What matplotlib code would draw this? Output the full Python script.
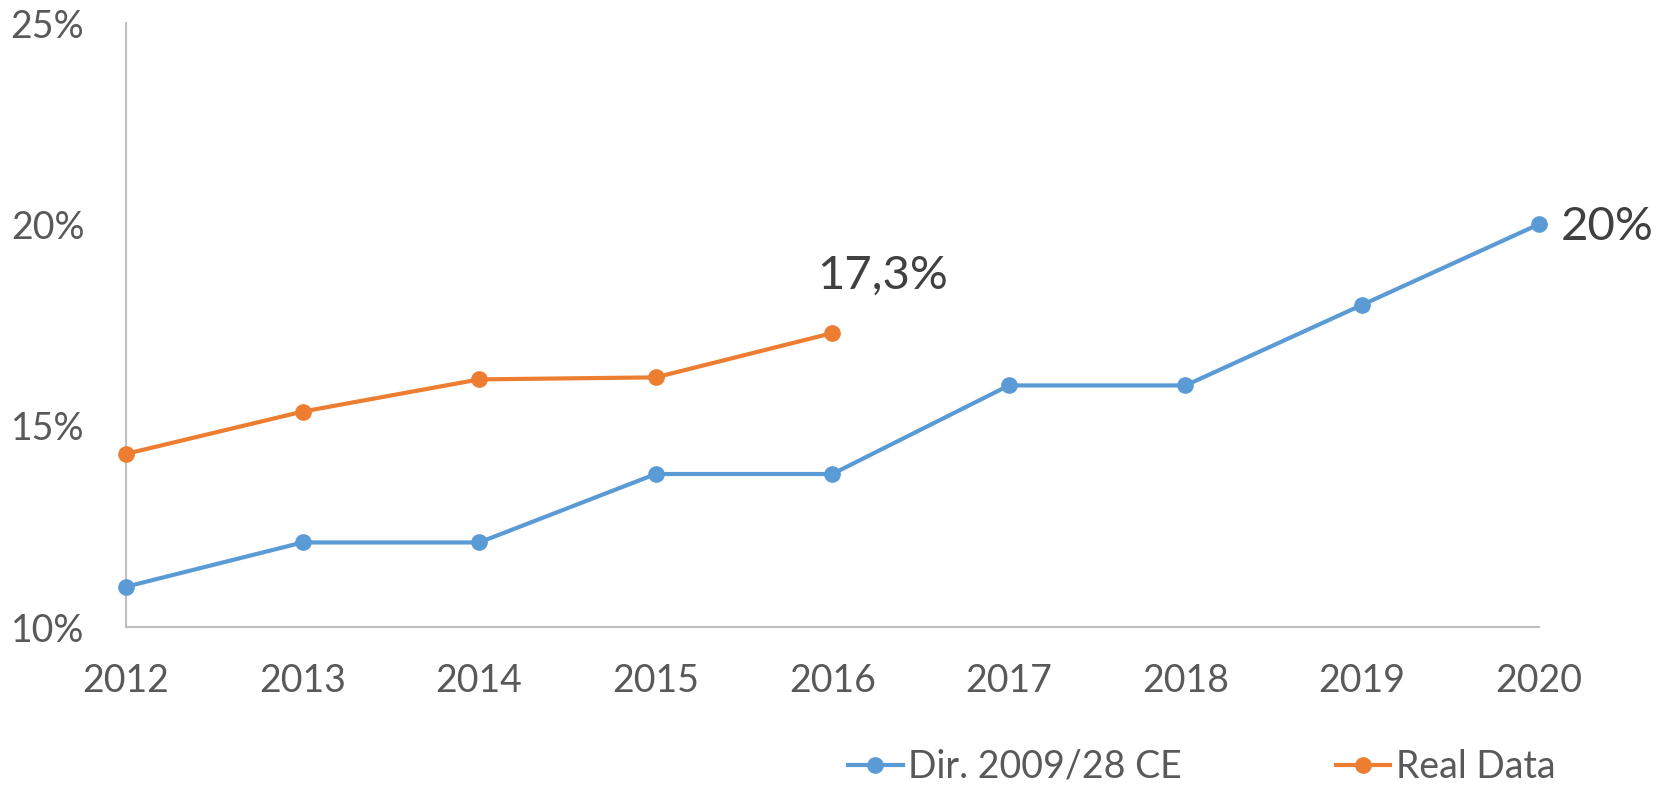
import matplotlib
matplotlib.use("Agg")
import matplotlib.pyplot as plt
from matplotlib.ticker import FuncFormatter

# data
years = [2012, 2013, 2014, 2015, 2016, 2017, 2018, 2019, 2020]
target = [11.0, 12.1, 12.1, 13.8, 13.8, 16.0, 16.0, 18.0, 20.0]
real_years = [2012, 2013, 2014, 2015, 2016]
real = [14.3, 15.35, 16.15, 16.2, 17.3]
y_ticks = [10, 15, 20, 25]

blue = "#5B9BD5"
orange = "#ED7D31"
grey_text = "#595959"

plt.rcParams["font.family"] = ["Lato", "DejaVu Sans"]

fig = plt.figure(figsize=(16.6, 7.89), dpi=100)
ax = fig.add_axes([0.0759, 0.2053, 0.851, 0.7655])

ax.plot(years, target, color=blue, lw=3, marker="o", markersize=11,
        label="Dir. 2009/28 CE", clip_on=False, zorder=3)
ax.plot(real_years, real, color=orange, lw=3, marker="o", markersize=11,
        label="Real Data", clip_on=False, zorder=3)

ax.set_xlim(years[0], years[-1])
ax.set_ylim(10, 25)
ax.set_xticks(years)
ax.set_yticks(y_ticks)
ax.yaxis.set_major_formatter(FuncFormatter(lambda v, p: f"{v:.0f}%"))

for side in ["top", "right"]:
    ax.spines[side].set_visible(False)
for side in ["left", "bottom"]:
    ax.spines[side].set_color("#BFBFBF")
    ax.spines[side].set_linewidth(1.5)

ax.tick_params(axis="both", length=0, labelsize=27, colors=grey_text)
ax.tick_params(axis="y", pad=30)
ax.tick_params(axis="x", pad=26)

# end-point labels
ax.annotate("17,3%", (real_years[-1], real[-1]), xytext=(36, 26),
            textcoords="offset points", ha="center", va="bottom",
            fontsize=34, color="#404040")
ax.annotate("20%", (years[-1], target[-1]), xytext=(16, -2),
            textcoords="offset points", ha="left", va="center",
            fontsize=34, color="#404040")

leg = fig.legend(loc="center", bbox_to_anchor=(0.724, 0.028), ncol=2,
                 frameon=False, fontsize=27, handlelength=1.45,
                 handletextpad=0.15, columnspacing=4.1, borderaxespad=0)
for t in leg.get_texts():
    t.set_color(grey_text)

fig.savefig("out.png", dpi=100, facecolor="white")
